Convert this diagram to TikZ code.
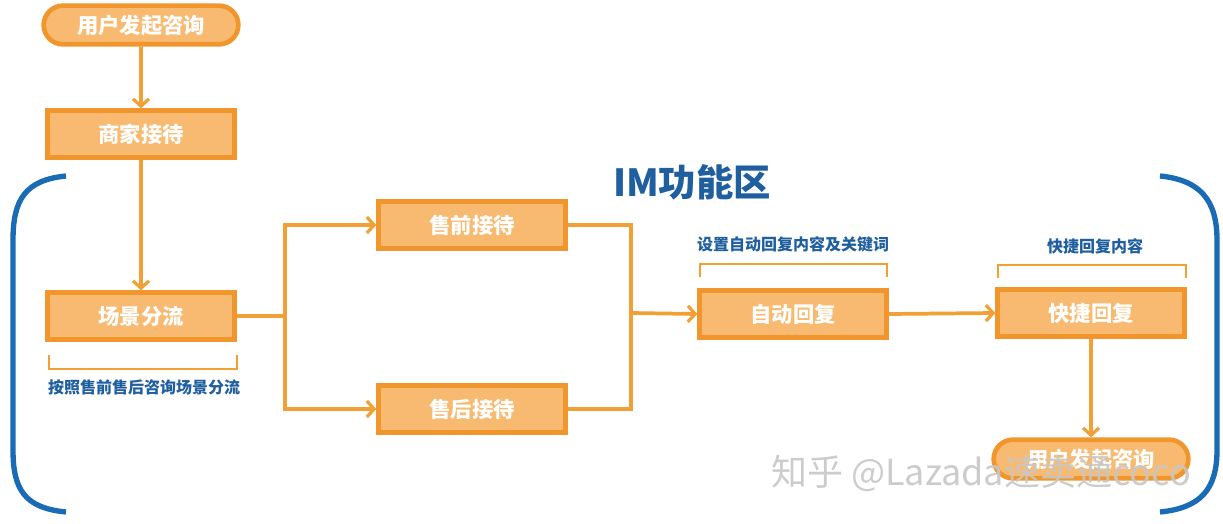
\documentclass[tikz,border=0pt]{standalone}
\usepackage{fontspec}
\newfontfamily\cjk{Noto Sans CJK SC}
\usetikzlibrary{arrows.meta,shapes.misc}
\definecolor{boxfill}{HTML}{F8BA70}
\definecolor{boxline}{HTML}{F0962C}
\definecolor{flow}{HTML}{F0A035}
\definecolor{lblue}{HTML}{1F5F9F}
\definecolor{bblue}{HTML}{1A6BB5}
\tikzset{
  stepbox/.style={draw=boxline, fill=boxfill, line width=3.5pt, minimum width=140pt, minimum height=35pt, inner sep=0pt, text=white, font=\cjk\bfseries\fontsize{16}{16}\selectfont},
  pill/.style={stepbox, rounded rectangle, minimum width=146pt, minimum height=29pt},
  conn/.style={draw=flow, line width=2.8pt},
  arr/.style={conn, -{Straight Barb[length=5.5pt,width=12pt,line width=2.4pt]}},
  brk/.style={draw=flow, line width=1.8pt},
  note/.style={text=lblue, font=\cjk\bfseries\fontsize{12}{12}\selectfont},
  imbrace/.style={draw=bblue, line width=4pt}
}
\begin{document}
\begin{tikzpicture}[x=0.75pt,y=-0.75pt]
\useasboundingbox (0,0) rectangle (1223,524);
% nodes
\node[pill] (start) at (141,25) {用户发起咨询};
\node[stepbox] (shop) at (141,134) {商家接待};
\node[stepbox] (split) at (141,316) {场景分流};
\node[stepbox] (pre) at (472,225) {售前接待};
\node[stepbox] (post) at (472,409) {售后接待};
\node[stepbox] (auto) at (793,314) {自动回复};
\node[stepbox] (quick) at (1091,313) {快捷回复};
\node[pill] (endn) at (1091,459) {用户发起咨询};
% title
\node[text=lblue, font=\cjk\bfseries\fontsize{28}{28}\selectfont] (title) at (692,182) {IM功能区};
% connectors
\coordinate (fork) at (285,316);
\coordinate (join) at (631,313);
\draw[arr] (start) -- (shop);
\draw[arr] (shop) -- (split);
\draw[conn] (split.east) -- (fork);
\draw[arr] (fork) |- (pre.west);
\draw[arr] (fork) |- (post.west);
\draw[conn] (pre.east) -| (join);
\draw[conn] (post.east) -| (join);
\draw[arr] (join) -- (auto.west);
\draw[arr] (auto.east) -- (quick.west);
\draw[arr] (quick.south) -- (endn.north);
% brackets and notes
\draw[brk] (49,355) -- (49,369) -- (237,369) -- (237,355);
\node[note] (n1) at (144,387) {按照售前售后咨询场景分流};
\draw[brk] (700,277) -- (700,264) -- (887,264) -- (887,277);
\node[note] (n2) at (793,244) {设置自动回复内容及关键词};
\draw[brk] (998,278) -- (998,265) -- (1186,265) -- (1186,278);
\node[note] (n3) at (1095,246) {快捷回复内容};
% IM area braces
\draw[imbrace] (66,176) .. controls (25,180) and (13,200) .. (13,240) -- (13,450) .. controls (13,490) and (25,508) .. (66,512);
\draw[imbrace] (1160,176) .. controls (1200,180) and (1217,200) .. (1217,240) -- (1217,450) .. controls (1217,490) and (1200,508) .. (1160,512);
% watermark
\node[text=black!22, font=\cjk\fontsize{27}{27}\selectfont, opacity=0.9] (wm) at (981,473) {知乎 @Lazada速卖通coco};
\end{tikzpicture}
\end{document}
